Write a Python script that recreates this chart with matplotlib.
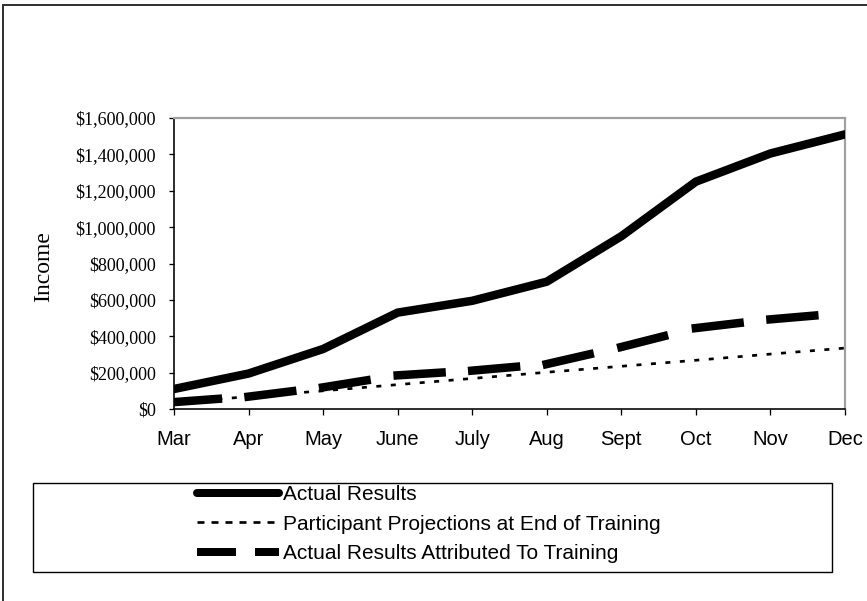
import matplotlib
matplotlib.use("Agg")
import matplotlib.pyplot as plt
from matplotlib.lines import Line2D
from matplotlib.patches import Rectangle
from matplotlib.ticker import FuncFormatter, MultipleLocator

plt.rcParams["lines.scale_dashes"] = False

months = ["Mar", "Apr", "May", "June", "July", "Aug", "Sept", "Oct", "Nov", "Dec"]
actual = [110000, 195000, 330000, 530000, 595000, 700000, 950000, 1250000, 1405000, 1510000]
projected = [35000, 68000, 100000, 134000, 168000, 202000, 235000, 268000, 302000, 335000]
attributed = [38000, 68000, 119000, 185000, 211000, 247000, 341000, 445000, 493000, 528000]

labels = ["Actual Results",
          "Participant Projections at End of Training",
          "Actual Results Attributed To Training"]

W, H = 867, 601
DPI = 100
PX = 72.0 / DPI  # points per pixel

fig = plt.figure(figsize=(W / DPI, H / DPI), dpi=DPI)
fig.patch.set_facecolor("white")

# outer chart frame (left and top edges visible)
fig.add_artist(Rectangle((3 / W, -0.1), 1.2, 1 - 5 / H + 0.1, transform=fig.transFigure,
                         fill=False, edgecolor="#333333", linewidth=2 * PX))

ax = fig.add_axes([174 / W, 1 - 409 / H, 671 / W, 291 / H])
x = list(range(len(months)))

# solid series
ax.plot(x, actual, color="black", lw=8.5 * PX, solid_capstyle="round",
        solid_joinstyle="round", zorder=3)

# dotted series
ax.plot(x, projected, color="black", lw=2.7 * PX, dashes=(5 * PX, 9.5 * PX),
        dash_capstyle="butt", zorder=4)

# dashed series: the dash pattern restarts on every month-to-month segment
for i in range(len(x) - 1):
    ax.plot(x[i:i + 2], attributed[i:i + 2], color="black", lw=8.5 * PX,
            dashes=(44 * PX, 200 * PX), dash_capstyle="projecting", zorder=5)

ax.set_xlim(0, len(months) - 1)
ax.set_ylim(0, 1600000)
ax.yaxis.set_major_locator(MultipleLocator(200000))
ax.yaxis.set_major_formatter(FuncFormatter(lambda v, p: "${:,.0f}".format(v)))
ax.set_xticks(x)
ax.set_xticklabels(months)

for lab in ax.get_yticklabels():
    lab.set_fontfamily("Liberation Serif")
    lab.set_fontsize(13)
for lab in ax.get_xticklabels():
    lab.set_fontfamily("Liberation Sans")
    lab.set_fontsize(14.5)

ax.tick_params(axis="y", direction="out", length=5 * PX, width=1.3 * PX,
               pad=13 * PX, color="black")
ax.tick_params(axis="x", direction="out", length=6 * PX, width=1.3 * PX,
               pad=15 * PX, color="black")

for side in ("top", "right"):
    ax.spines[side].set_color("#a0a0a0")
    ax.spines[side].set_linewidth(2.2 * PX)
for side in ("left", "bottom"):
    ax.spines[side].set_color("black")
    ax.spines[side].set_linewidth(1.6 * PX)

ax.set_ylabel("Income", fontfamily="Liberation Serif", fontsize=17)
ax.yaxis.set_label_coords(-0.179, 0.491)

# legend frame
fig.add_artist(Rectangle((33 / W, 1 - 572 / H), 799 / W, 89 / H, transform=fig.transFigure,
                         fill=False, edgecolor="black", linewidth=1.4 * PX, zorder=1))

handles = [
    Line2D([], [], color="black", lw=8 * PX, solid_capstyle="round"),
    Line2D([], [], color="black", lw=2.7 * PX, dashes=(7 * PX, 7 * PX), dash_capstyle="butt"),
    Line2D([], [], color="black", lw=8 * PX, dashes=(39 * PX, 19 * PX), dash_capstyle="butt"),
]
leg_fs = 15
fig.legend(handles, labels, loc="center left", bbox_to_anchor=(197 / W, 1 - 524 / H),
           frameon=False, borderpad=0, borderaxespad=0,
           handlelength=(82 * PX) / leg_fs, handletextpad=(4 * PX) / leg_fs,
           labelspacing=0.5, prop={"family": "Liberation Sans", "size": leg_fs})

fig.savefig("out.png", dpi=DPI)
